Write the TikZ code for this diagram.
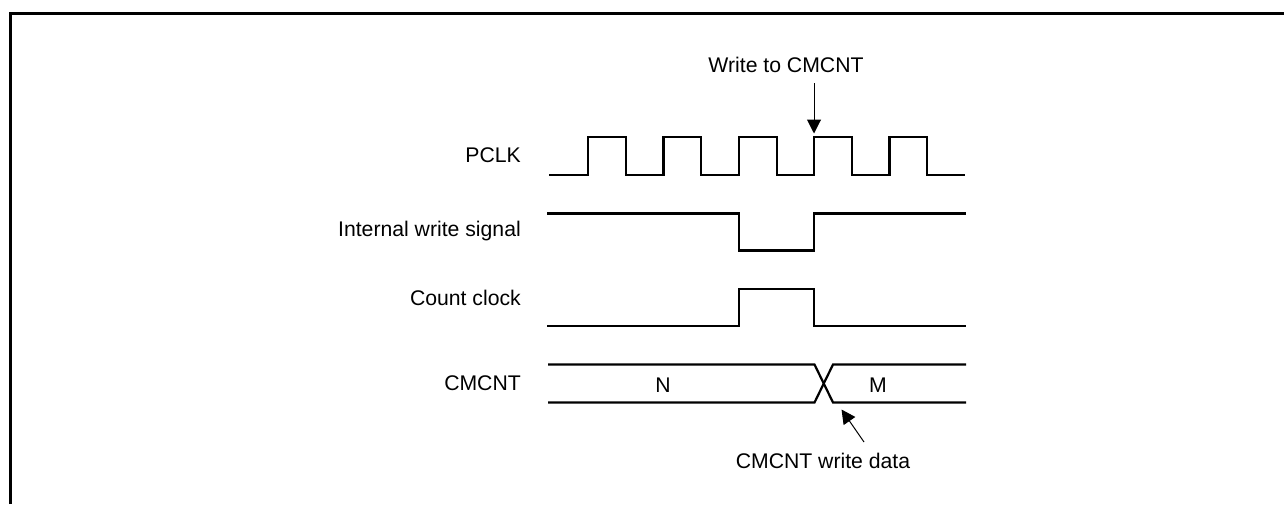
\documentclass[tikz,border=0pt]{standalone}
\usepackage{fontspec}
\setmainfont{Liberation Sans}
\usetikzlibrary{arrows.meta}
\begin{document}
\begin{tikzpicture}[x=1pt,y=-1pt,
  lbl/.style={font=\fontsize{21.2}{24}\selectfont, inner sep=0pt},
  sig/.style={line width=2.2pt, line join=miter},
  pointer/.style={line width=1pt, -{Triangle[width=14pt,length=14pt]}},
  frame/.style={line width=3pt}]
\useasboundingbox (0,0) rectangle (1284,504);
\draw[frame] (10.5,504) -- (10.5,13.5) -- (1284,13.5);
% labels
\node[lbl, anchor=east] (pclk) at (521,155.5) {PCLK};
\node[lbl, anchor=east] (iws) at (521,231) {Internal write signal};
\node[lbl, anchor=east] (cc) at (521,298) {Count clock};
\node[lbl, anchor=east] (cm) at (521,383) {CMCNT};
% PCLK
\draw[sig] (549,175) -- (588,175) -- (588,137) -- (626,137) -- (626,175)
  -- (663.5,175) -- (663.5,137) -- (701,137) -- (701,175)
  -- (739,175) -- (739,137) -- (777,137) -- (777,175)
  -- (814,175) -- (814,137) -- (852,137) -- (852,175)
  -- (889.5,175) -- (889.5,137) -- (927,137) -- (927,175) -- (965,175);
% Internal write signal
\draw[sig] (547,213.5) -- (739,213.5) -- (739,250.5) -- (814,250.5) -- (814,213.5) -- (966,213.5);
% Count clock
\draw[sig] (547,326) -- (739,326) -- (739,289) -- (814,289) -- (814,326) -- (966,326);
% CMCNT bus
\draw[sig] (548,364.5) -- (814.5,364.5) -- (833,402.5) -- (966,402.5);
\draw[sig] (548,402.5) -- (814.5,402.5) -- (833,364.5) -- (966,364.5);
\node[lbl] (n) at (663,385) {N};
\node[lbl] (m) at (878,385) {M};
% annotations
\node[lbl] (wr) at (786,65) {Write to CMCNT};
\coordinate (wrtail) at (814,83);
\coordinate (wrtip) at (814,133.5);
\draw[pointer] (wrtail) -- (wrtip);
\node[lbl] (wd) at (823,461) {CMCNT write data};
\coordinate (wdtip) at (841.5,409.5);
\coordinate (wdtail) at (864,442);
\draw[pointer] (wdtail) -- (wdtip);
\end{tikzpicture}
\end{document}
